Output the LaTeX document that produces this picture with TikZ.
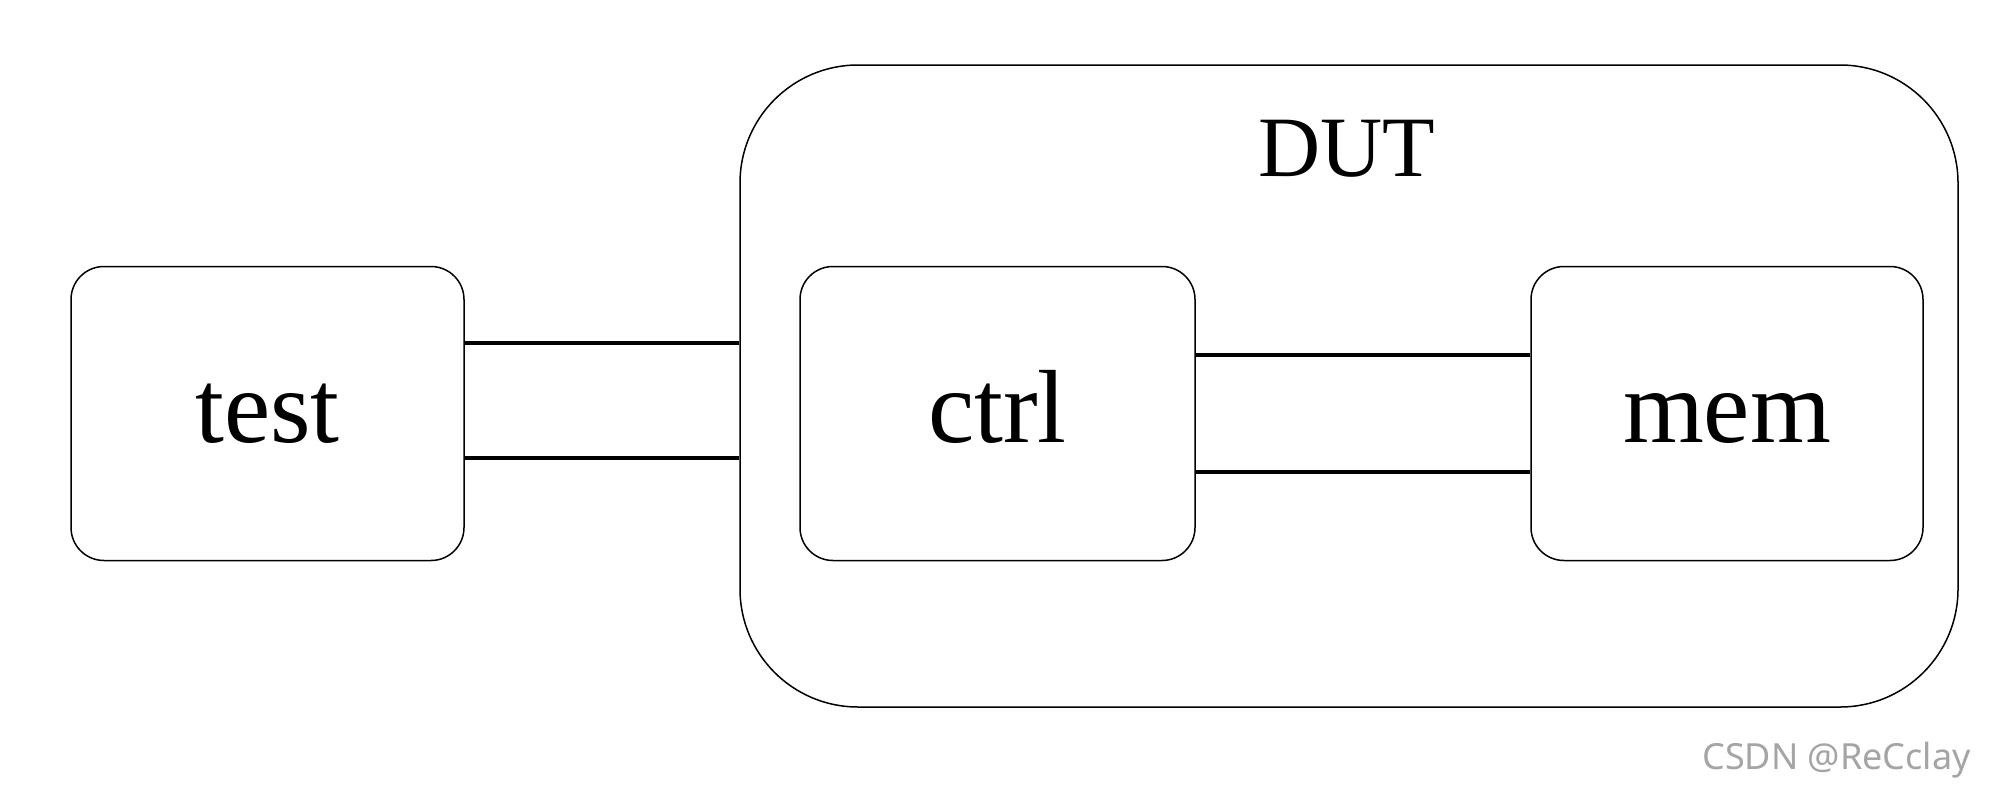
\documentclass[tikz,border=0pt]{standalone}
\usepackage{fontspec}
\setmainfont{Liberation Serif}
\newfontfamily\wmfont{Noto Sans}
\definecolor{wmgray}{RGB}{165,165,165}
\begin{document}
\begin{tikzpicture}[x=1pt,y=-1pt,
  blockbox/.style={draw=black, line width=1.5pt, rounded corners=33pt, minimum height=294pt,
    inner sep=0pt, text height=58pt, text depth=0pt, font=\fontsize{104}{110}\selectfont},
  wirelink/.style={line width=4.2pt},
]
\useasboundingbox (0,0) rectangle (2000,798);
\node[draw=black, line width=1.5pt, rounded corners=118pt, minimum width=1218pt, minimum height=642pt, inner sep=0pt] (dut) at (1349,386) {};
\node[anchor=base, font=\fontsize{86}{90}\selectfont] (dutlabel) at (1347,176) {DUT};
\node[blockbox, minimum width=393pt] (test) at (267.5,413.5) {test};
\node[blockbox, minimum width=395pt] (ctrl) at (997.5,413.5) {ctrl};
\node[blockbox, minimum width=392pt] (mem) at (1727,413.5) {mem};
\draw[wirelink] (test.east |- 0,343) -- (dut.west |- 0,343);
\draw[wirelink] (test.east |- 0,458) -- (dut.west |- 0,458);
\draw[wirelink] (ctrl.east |- 0,355) -- (mem.west |- 0,355);
\draw[wirelink] (ctrl.east |- 0,472) -- (mem.west |- 0,472);
\node[anchor=east, text=wmgray, inner sep=0pt, font=\wmfont\fontsize{36}{40}\selectfont] (wm) at (1971,760) {CSDN @ReCclay};
\end{tikzpicture}
\end{document}
